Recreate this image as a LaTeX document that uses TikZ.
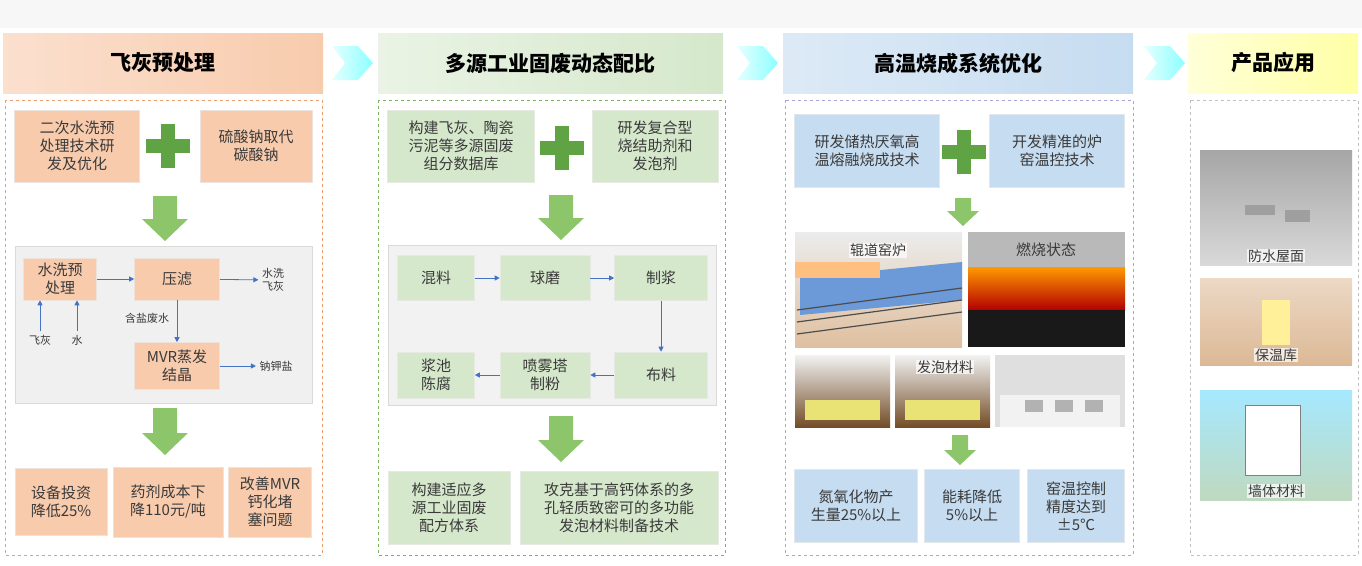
\documentclass[tikz,border=0pt]{standalone}
\usepackage{fontspec}
\setmainfont{Noto Sans CJK SC}
\usetikzlibrary{arrows.meta}
\definecolor{peach}{HTML}{F8CBAD}
\definecolor{peachd}{HTML}{E8A070}
\definecolor{lgreen}{HTML}{D5E8CB}
\definecolor{lblue}{HTML}{C6DCF0}
\definecolor{garrow}{HTML}{8CC56A}
\definecolor{gplus}{HTML}{5FA345}
\definecolor{txt}{HTML}{3A3A3A}
\definecolor{blin}{HTML}{4472C4}
\tikzset{
 bx/.style={draw=#1!80!black!30, line width=0.6pt, align=center, text=txt, font=\fontsize{15}{18}\selectfont, inner sep=1pt},
 pbox/.style={bx=peach, fill=peach},
 gbox/.style={bx=lgreen, fill=lgreen},
 bbox/.style={bx=lblue, fill=lblue},
 hdr/.style={font=\fontsize{21}{24}\selectfont\bfseries, text=black},
 la/.style={-{Triangle[length=5pt,width=5pt]}, blin, line width=0.8pt},
 sm/.style={font=\fontsize{11}{13}\selectfont, text=txt, align=center},
 phcap/.style={font=\fontsize{14}{16}\selectfont, text=txt, fill=white, fill opacity=0.7, text opacity=1, inner sep=1pt},
}
% x, ytop, ybottom, shaft half width, head half width, head length
\newcommand{\dnarrow}[6]{\fill[garrow] (#1-#4,#2) -- (#1+#4,#2) -- (#1+#4,#3-#6) -- (#1+#5,#3-#6) -- (#1,#3) -- (#1-#5,#3-#6) -- (#1-#4,#3-#6) -- cycle;}
\newcommand{\plusmark}[2]{\fill[gplus] (#1-22,#2-7) rectangle (#1+22,#2+7); \fill[gplus] (#1-7,#2-22) rectangle (#1+7,#2+22);}
\begin{document}
\begin{tikzpicture}[x=1pt,y=-1pt]
\useasboundingbox (0,0) rectangle (1362,565);
\fill[white] (0,0) rectangle (1362,565);
\fill[gray!6] (0,0) rectangle (1362,28);
% headers
\shade[left color=peach!60, right color=peach] (3,33) rectangle (323,93);
\node[hdr] (h1) at (163,63) {飞灰预处理};
\shade[left color=lgreen!50, right color=lgreen] (378,33) rectangle (723,93);
\node[hdr] (h2) at (550,63) {多源工业固废动态配比};
\shade[left color=lblue!60, right color=lblue] (783,33) rectangle (1133,93);
\node[hdr] (h3) at (958,63) {高温烧成系统优化};
\shade[left color=yellow!15, right color=yellow!35] (1188,33) rectangle (1358,93);
\node[hdr] (h4) at (1273,63) {产品应用};
\shade[left color=cyan!10, right color=cyan!45] (332,46) -- (358,46) -- (373,63) -- (358,80) -- (332,80) -- (345,63) -- cycle;
\shade[left color=cyan!10, right color=cyan!45] (737,46) -- (763,46) -- (778,63) -- (763,80) -- (737,80) -- (750,63) -- cycle;
\shade[left color=cyan!10, right color=cyan!45] (1144,46) -- (1170,46) -- (1185,63) -- (1170,80) -- (1144,80) -- (1157,63) -- cycle;
% panels
\draw[peachd, dashed, line width=1pt] (5,100) rectangle (322,555);
\draw[garrow!90!black, dashed, line width=1pt] (378,100) rectangle (725,555);
\draw[gray!60!blue!50, dashed, line width=1pt] (785,100) rectangle (1133,555);
\draw[gray!50, dashed, line width=1pt] (1190,100) rectangle (1358,555);
% ---- col1
\node[pbox, minimum width=125pt, minimum height=72pt] (a1) at (77,146) {二次水洗预\\处理技术研\\发及优化};
\plusmark{168}{146}
\node[pbox, minimum width=112pt, minimum height=72pt] (a2) at (256,146) {硫酸钠取代\\碳酸钠};
\dnarrow{165}{196}{241}{12}{23}{22}
\fill[gray!12] (15,246) rectangle (312,403);
\draw[gray!30] (15,246) rectangle (312,403);
\node[pbox, minimum width=73pt, minimum height=42pt] (w1) at (60,279) {水洗预\\处理};
\node[pbox, minimum width=85pt, minimum height=42pt] (w2) at (177,279) {压滤};
\node[sm] (w3) at (273,280) {水洗\\飞灰};
\node[pbox, minimum width=85pt, minimum height=47pt] (w4) at (177,366) {MVR蒸发\\结晶};
\node[sm] (w5) at (276,366) {钠钾盐};
\node[sm] (f1) at (40,340) {飞灰};
\node[sm] (f2) at (77,340) {水};
\node[sm] (f3) at (147,318) {含盐废水};
\draw[la] (w1) -- (w2);
\draw[la] (w2) -- (w3);
\draw[la] (w2) -- (w4);
\draw[la] (w4) -- (w5);
\draw[la] (f1) -- (f1|-w1.south);
\draw[la] (f2) -- (f2|-w1.south);
\dnarrow{165}{408}{455}{12}{23}{22}
\node[pbox, minimum width=92pt, minimum height=67pt] (r1) at (61,502) {设备投资\\降低25\%};
\node[pbox, minimum width=110pt, minimum height=70pt] (r2) at (168,502) {药剂成本下\\降110元/吨};
\node[pbox, minimum width=83pt, minimum height=70pt] (r3) at (270,502) {改善MVR\\钙化堵\\塞问题};
% ---- col2
\node[gbox, minimum width=147pt, minimum height=72pt] (b1) at (461,146) {构建飞灰、陶瓷\\污泥等多源固废\\组分数据库};
\plusmark{562}{148}
\node[gbox, minimum width=126pt, minimum height=72pt] (b2) at (655,146) {研发复合型\\烧结助剂和\\发泡剂};
\dnarrow{561}{195}{240}{12}{23}{22}
\fill[gray!10] (388,245) rectangle (716,405);
\draw[gray!30] (388,245) rectangle (716,405);
\node[gbox, minimum width=77pt, minimum height=45pt] (m1) at (436,278) {混料};
\node[gbox, minimum width=90pt, minimum height=45pt] (m2) at (545,278) {球磨};
\node[gbox, minimum width=93pt, minimum height=45pt] (m3) at (661,278) {制浆};
\node[gbox, minimum width=93pt, minimum height=46pt] (m4) at (661,375) {布料};
\node[gbox, minimum width=90pt, minimum height=46pt] (m5) at (545,375) {喷雾塔\\制粉};
\node[gbox, minimum width=77pt, minimum height=46pt] (m6) at (436,375) {浆池\\陈腐};
\draw[la] (m1) -- (m2);
\draw[la] (m2) -- (m3);
\draw[la] (m3) -- (m4);
\draw[la] (m4) -- (m5);
\draw[la] (m5) -- (m6);
\dnarrow{561}{416}{462}{12}{23}{22}
\node[gbox, minimum width=122pt, minimum height=73pt] (s1) at (449,508) {构建适应多\\源工业固废\\配方体系};
\node[gbox, minimum width=198pt, minimum height=73pt] (s2) at (619,508) {攻克基于高钙体系的多\\孔轻质致密可的多功能\\发泡材料制备技术};
% ---- col3
\node[bbox, minimum width=145pt, minimum height=73pt] (c1) at (867,151) {研发储热厌氧高\\温熔融烧成技术};
\plusmark{964}{152}
\node[bbox, minimum width=135pt, minimum height=73pt] (c2) at (1057,151) {开发精准的炉\\窑温控技术};
\dnarrow{963}{198}{226}{8}{16}{15}
% photos
\shade[top color=gray!15, bottom color=brown!50] (795,232) rectangle (962,347);
\fill[cyan!50!blue!60] (800,278) -- (962,262) -- (962,300) -- (800,315) -- cycle;
\fill[orange!50] (795,262) rectangle (880,278);
\foreach \yy in {300,312,324} \draw[black!70, line width=1.2pt] (797,\yy+10) -- (962,\yy-12);
\node[phcap] (p1) at (878,250) {辊道窑炉};
\fill[gray!55] (968,232) rectangle (1125,267);
\shade[top color=orange!80!yellow, bottom color=red!70!black] (968,267) rectangle (1125,310);
\fill[black!90] (968,310) rectangle (1125,347);
\node[font=\fontsize{15}{17}\selectfont, text=txt] (p2) at (1046,250) {燃烧状态};
\shade[top color=gray!10, bottom color=brown!60!black] (795,355) rectangle (890,427);
\fill[olive!40!yellow!50] (805,400) rectangle (880,420);
\shade[top color=gray!10, bottom color=brown!60!black] (895,355) rectangle (990,427);
\fill[olive!40!yellow!50] (905,400) rectangle (980,420);
\fill[gray!25] (995,355) rectangle (1125,427);
\fill[white!90!gray] (1000,395) rectangle (1120,427);
\foreach \xx in {1025,1055,1085} \fill[gray!60] (\xx,400) rectangle (\xx+18,412);
\node[phcap] (p3) at (945,367) {发泡材料};
\dnarrow{960}{435}{465}{8}{16}{15}
\node[bbox, minimum width=123pt, minimum height=73pt] (t1) at (856,506) {氮氧化物产\\生量25\%以上};
\node[bbox, minimum width=95pt, minimum height=73pt] (t2) at (972,506) {能耗降低\\5\%以上};
\node[bbox, minimum width=97pt, minimum height=73pt] (t3) at (1076,506) {窑温控制\\精度达到\\±5℃};
% ---- col4
\shade[top color=gray!70, bottom color=gray!30] (1200,150) rectangle (1352,265);
\fill[gray!75] (1245,205) rectangle (1275,215); \fill[gray!75] (1285,210) rectangle (1310,222);
\node[phcap] (q1) at (1276,256) {防水屋面};
\shade[top color=brown!30, bottom color=brown!55] (1200,278) rectangle (1352,365);
\fill[orange!30!yellow!40] (1262,300) rectangle (1290,345);
\node[phcap] (q2) at (1276,355) {保温库};
\shade[top color=blue!25!cyan!35, bottom color=green!25!gray!40] (1200,390) rectangle (1352,500);
\fill[white] (1245,405) rectangle (1300,475);
\draw[gray] (1245,405) rectangle (1300,475);
\node[phcap] (q3) at (1276,491) {墙体材料};
\end{tikzpicture}
\end{document}
